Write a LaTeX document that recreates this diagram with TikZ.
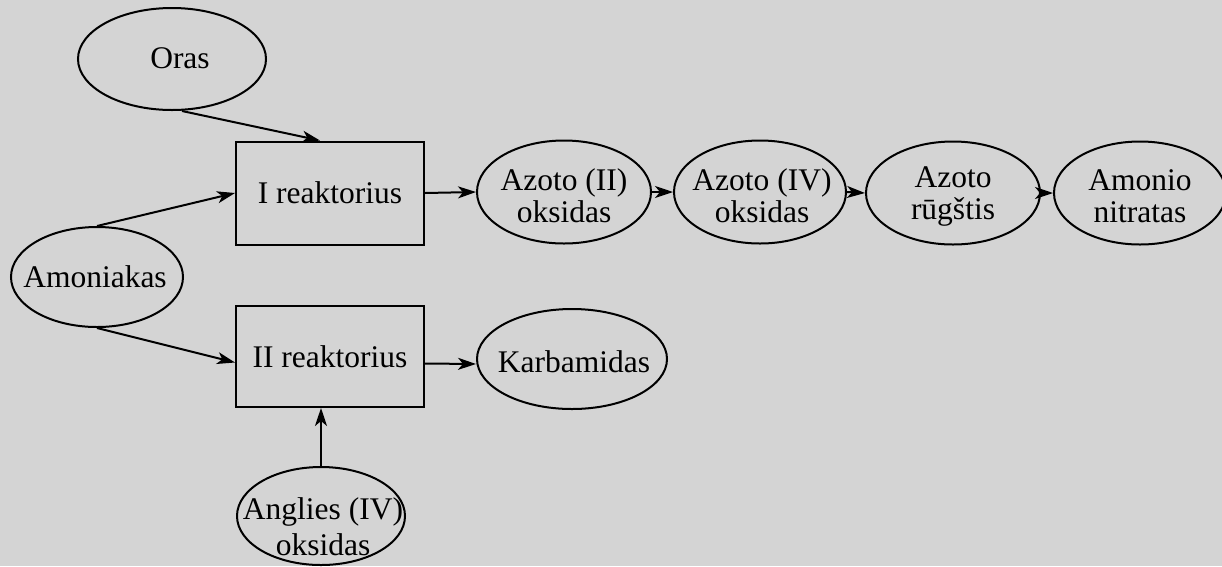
\documentclass[tikz,border=0pt]{standalone}
\usepackage{fontspec}
\setmainfont{Liberation Serif}
\usetikzlibrary{shapes.geometric,arrows.meta,calc}
\definecolor{paper}{gray}{0.83}
\newcommand\diagfont{\fontsize{31.5pt}{32pt}\selectfont}
\begin{document}
\begin{tikzpicture}[x=1pt,y=-1pt,
  line width=2pt,
  oval/.style={ellipse,draw,inner sep=0pt},
  tank/.style={rectangle,draw,minimum width=188pt,minimum height=103pt,inner sep=0pt,font=\diagfont},
  lbl/.style={align=center,font=\diagfont,inner sep=0pt},
  flow/.style={-{Stealth[length=18pt,width=12pt,inset=5pt]}}
]
\useasboundingbox (0,0) rectangle (1222,566);
\fill[paper] (0,0) rectangle (1222,566);
\clip (0,0) rectangle (1222,566);

% raw materials
\node[oval,minimum width=188pt,minimum height=102pt] (oras) at (172,59) {};
\node[lbl] at (180,58) {Oras};
\node[oval,minimum width=172pt,minimum height=100pt] (amo) at (97,277) {};
\node[lbl] at (95,277) {Amoniakas};
\node[oval,minimum width=168pt,minimum height=98pt] (ang) at (321,516) {};
\node[lbl,text depth=0pt] at (323,527) {Anglies (IV)\\[4pt]oksidas};

% reactors
\node[tank] (r1) at (330,193) {I reaktorius};
\node[tank,minimum height=101pt] (r2) at (330,356.5) {II reaktorius};

% products
\node[oval,minimum width=174pt,minimum height=103pt] (az2) at (564,192) {};
\node[lbl] at (564,196) {Azoto (II)\\oksidas};
\node[oval,minimum width=172pt,minimum height=103pt] (az4) at (760,192) {};
\node[lbl] at (762,196) {Azoto (IV)\\oksidas};
\node[oval,minimum width=174pt,minimum height=103pt] (rug) at (953,193) {};
\node[lbl] at (953,196) {Azoto\\rūgštis};
\node[oval,minimum width=172pt,minimum height=103pt] (amn) at (1140,193) {};
\node[lbl] at (1140,196) {Amonio\\nitratas};
\node[oval,minimum width=190pt,minimum height=100pt] (kar) at (572,359) {};
\node[lbl] at (574,362) {Karbamidas};

% connectors
\draw[flow] ($(oras.south)+(10,0)$) -- ($(r1.north)+(-10,0)$);
\draw[flow] (amo.north) -- (r1.west);
\draw[flow] (amo.south) -- ($(r2.west)+(0,6)$);
\draw[flow] (ang.north) -- (ang.north |- r2.south);
\draw[flow] ($(r2.east)+(0,7)$) -- ($(kar.west)+(0,5)$);
\draw[flow] (r1.east) -- (az2.west);
\draw[flow] (az2.east) -- (az4.west);
\draw[flow] (az4.east) -- (rug.west);
\draw[flow] (rug.east) -- (amn.west);
\end{tikzpicture}
\end{document}
